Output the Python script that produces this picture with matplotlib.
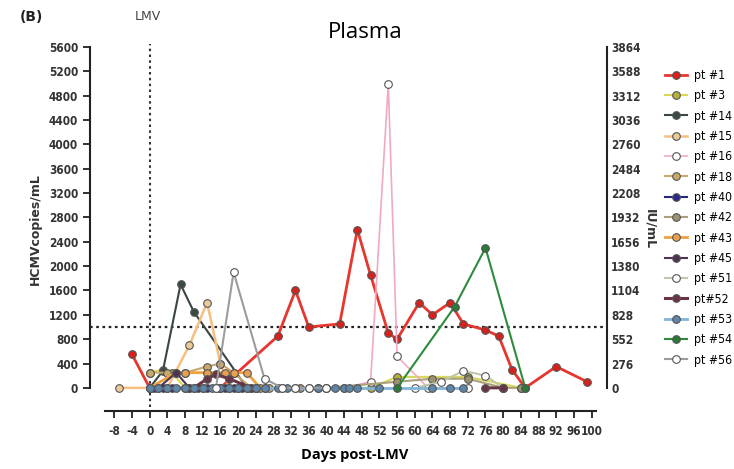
import numpy as np
import matplotlib
matplotlib.use("Agg")
import matplotlib.pyplot as plt

plt.rcParams["axes.unicode_minus"] = False
nan = np.nan

# datos (dias post-LMV, copias/mL)
pt1_d = [-4, 0, 16, 29, 33, 36, 43, 47, 50, 54, 56, 61, 64, 68, 71, 76, 79, 82, 85, 92, 99]
pt1_v = [550, 0, 0, 850, 1600, 1000, 1050, 2600, 1850, 900, 800, 1400, 1200, 1400, 1050, 950, 850, 300, 0, 350, 100]
pt3_d = [0, 3, 5, 8, 50, 56, 72, 84]
pt3_v = [250, 300, 250, 0, 0, 180, 180, 0]
pt14_d = [0, 3, 7, 10, 22]
pt14_v = [0, 280, 1700, 1250, 0]
pt15_d = [-7, 0, 4, 9, 13, 16, 18]
pt15_v = [0, 0, 0, 700, 1400, 400, 0]
pt16_d = [44, 50, 54, 56, 63, 72]
pt16_v = [0, 100, 5000, 520, 0, 0]
pt18_d = [0, 4, 8, 13, 16, 19, 23, 27]
pt18_v = [250, 250, 250, 350, 400, 250, 0, 0]
pt40_d = [1, 3, 5, 9, 11, 13, 15, 17, 19, 21]
pt40_v = [0, 0, 0, 0, 0, 0, 0, 0, 0, 0]
pt42_d = [24, 26, 30, 34, 38, 40, 56, 64, 72, 80, 84]
pt42_v = [0, 0, 0, 0, 0, 0, 100, 150, 150, 0, 0]
pt43_d = [0, 6, 8, 13, 17, 19, 22, 25]
pt43_v = [0, 250, 250, 250, 250, 250, 250, 0]
pt45_d = [2, 6, 9, 12, 16, 20, 24]
pt45_v = [0, 250, 0, 0, 0, 0, 0]
pt51_d = [60, 66, 71, 76, 80]
pt51_v = [0, 100, 280, 200, 0]
pt52_d = [10, 13, 15, 18, 23, 50, 76, 80]
pt52_v = [0, 150, 220, 150, 0, nan, 0, 0]
pt53_d = [0, 2, 4, 6, 8, 10, 12, 14, 16, 18, 20, 22, 24, 26, 29, 31, 33, 36, 38, 40, 42, 44, 45, 47, 52, 64, 68, 71]
pt53_v = [0] * len(pt53_d)
pt54_d = [56, 69, 76, 85]
pt54_v = [0, 1330, 2300, 0]
pt56_d = [15, 19, 26, 30, 33, 36, 40]
pt56_v = [0, 1900, 150, 0, 0, 0, 0]

x_ticks = list(range(-8, 101, 4))
y_ticks = list(range(0, 5601, 400))
iu_ticks = list(range(0, 3865, 276))

# (etiqueta, dias, valores, color linea, color marcador, grosor)
series = [
    ("pt #1", pt1_d, pt1_v, "#e8352d", "#d8201c", 2.0),
    ("pt #3", pt3_d, pt3_v, "#d8d85a", "#b8ae3a", 1.5),
    ("pt #14", pt14_d, pt14_v, "#3a4640", "#3a4a42", 1.5),
    ("pt #15", pt15_d, pt15_v, "#f6bf80", "#eacb98", 1.8),
    ("pt #16", pt16_d, pt16_v, "#f2a9c4", "white", 1.2),
    ("pt #18", pt18_d, pt18_v, "#caa86c", "#c9a86a", 1.5),
    ("pt #40", pt40_d, pt40_v, "#262680", "#2a2a86", 1.5),
    ("pt #42", pt42_d, pt42_v, "#aaa07a", "#9c9270", 1.5),
    ("pt #43", pt43_d, pt43_v, "#f0a040", "#e8a050", 2.0),
    ("pt #45", pt45_d, pt45_v, "#4c3450", "#4c3450", 1.5),
    ("pt #51", pt51_d, pt51_v, "#c2c6aa", "white", 1.5),
    ("pt#52", pt52_d, pt52_v, "#6a3446", "#6a3446", 2.2),
    ("pt #53", pt53_d, pt53_v, "#80b4dc", "#5f86a8", 2.0),
    ("pt #54", pt54_d, pt54_v, "#2e8b3e", "#2a7a38", 1.5),
    ("pt #56", pt56_d, pt56_v, "#9c9c9c", "white", 1.5),
]

tick_font = ["Liberation Sans Narrow", "DejaVu Sans"]

fig = plt.figure(figsize=(7.34, 4.69), dpi=100)
ax = fig.add_axes([0.1226, 0.1237, 0.7044, 0.7761])

# lineas de referencia
ax.axhline(1000, color="#222222", ls=(0, (1.2, 1.6)), lw=1.6, zorder=1)
ax.plot([0, 0], [-320, 5650], color="#333333", ls=(0, (1.2, 1.6)), lw=1.5, clip_on=False, zorder=1)

for lab, d, v, lc, mc, lw in series:
    ax.plot(d, v, color=lc, lw=lw, marker="o", markersize=5.5,
            markerfacecolor=mc, markeredgecolor="#555555", markeredgewidth=0.8,
            label=lab, zorder=3)

ax.set_xlim(-13.5, 103.5)
ax.set_ylim(-380, 5600)
ax.set_xticks(x_ticks)
ax.set_yticks(y_ticks)
for s in ["top", "right"]:
    ax.spines[s].set_visible(False)
ax.spines["left"].set_bounds(0, 5600)
ax.spines["bottom"].set_bounds(-10, 101)
for s in ["left", "bottom"]:
    ax.spines[s].set_linewidth(1.5)
    ax.spines[s].set_color("#222222")
ax.tick_params(direction="out", length=5, width=1.3, color="#222222",
               labelsize=8.5, labelcolor="#333333")
ax.tick_params(axis="x", pad=5)
for t in ax.get_xticklabels() + ax.get_yticklabels():
    t.set_family(tick_font)
    t.set_fontweight("bold")
    t.set_fontstretch("condensed")

ax.set_ylabel("HCMVcopies/mL", fontsize=9, fontweight="bold", color="#333333", labelpad=5)

ax2 = ax.twinx()
ax2.set_ylim(-380 * 0.69, 3864)
ax2.set_yticks(iu_ticks)
for s in ["top", "left", "bottom"]:
    ax2.spines[s].set_visible(False)
ax2.spines["right"].set_bounds(0, 3864)
ax2.spines["right"].set_linewidth(1.5)
ax2.spines["right"].set_color("#222222")
ax2.tick_params(length=0, labelsize=8.5, labelcolor="#333333", pad=3)
for t in ax2.get_yticklabels():
    t.set_family(tick_font)
    t.set_fontweight("bold")
    t.set_fontstretch("condensed")
ax2.set_ylabel("IU/mL", rotation=270, fontsize=9, fontweight="bold", color="#333333", labelpad=11)

# textos
fig.text(20 / 734, 1 - 17 / 469, "(B)", fontsize=10, fontweight="bold", va="center", color="#222222")
fig.text(148 / 734, 1 - 17 / 469, "LMV", fontsize=9, ha="center", va="center", color="#444444",
         family=tick_font)
fig.text(365 / 734, 1 - 33 / 469, "Plasma", fontsize=16, ha="center", va="center", family="Open Sans")
fig.text(355 / 734, 1 - 455 / 469, "Days post-LMV", fontsize=10.5, fontweight="bold", ha="center",
         va="center", family="Open Sans")

fig.legend(loc="upper left", bbox_to_anchor=(660 / 734, 1 - 64 / 469), frameon=False,
           labelspacing=0.6, handlelength=1.8, handletextpad=0.6,
           borderaxespad=0, prop={"family": tick_font, "size": 8.8, "stretch": "condensed"})

plt.savefig("out.png", dpi=100)
